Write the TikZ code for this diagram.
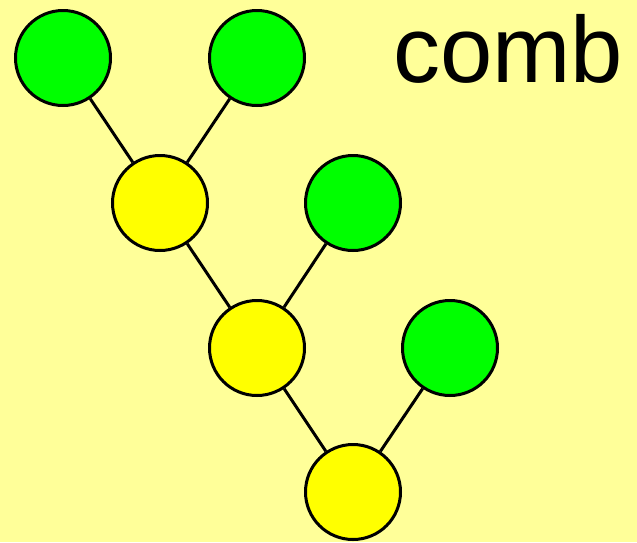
\documentclass[tikz,border=0pt]{standalone}
\usepackage{fontspec}
\setmainfont{Liberation Sans}
\definecolor{paper}{HTML}{FFFF99}
\definecolor{leafgreen}{HTML}{00FF00}
\definecolor{inneryellow}{HTML}{FFFF00}
\begin{document}
\begin{tikzpicture}[x=1pt,y=-1pt,
  vertex/.style={circle,draw=black,line width=3pt,minimum size=95pt,inner sep=0pt},
  leaf/.style={vertex,fill=leafgreen},
  inner/.style={vertex,fill=inneryellow},
  edge/.style={line width=3pt}]
  % background
  \fill[paper] (0,0) rectangle (637,542);
  \useasboundingbox (0,0) rectangle (637,542);
  % nodes
  \node[leaf]  (l1) at (63,58)  {};
  \node[leaf]  (l2) at (257,58) {};
  \node[inner] (i1) at (160,203) {};
  \node[leaf]  (l3) at (353,203) {};
  \node[inner] (i2) at (257,348) {};
  \node[leaf]  (l4) at (450,348) {};
  \node[inner] (i3) at (353,492) {};
  % edges
  \draw[edge] (l1) -- (i1);
  \draw[edge] (l2) -- (i1);
  \draw[edge] (i1) -- (i2);
  \draw[edge] (l3) -- (i2);
  \draw[edge] (i2) -- (i3);
  \draw[edge] (l4) -- (i3);
  % title
  \node[anchor=base,inner sep=0pt,font=\fontsize{94}{108}\selectfont] (title) at (508,82) {comb};
\end{tikzpicture}
\end{document}
